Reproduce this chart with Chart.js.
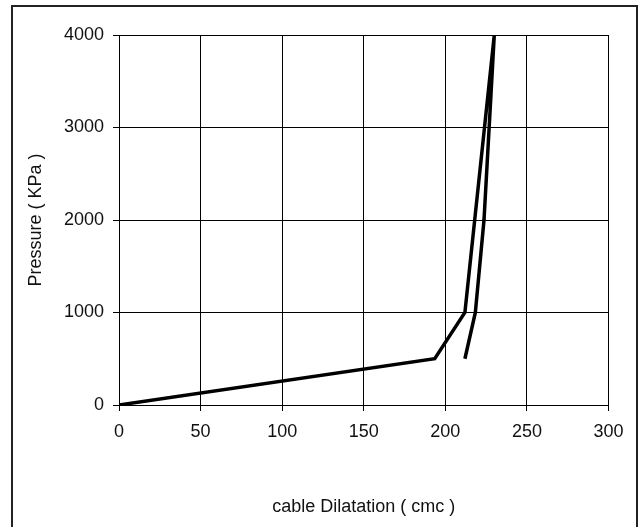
<!DOCTYPE html>
<html>
<head>
<meta charset="utf-8">
<script src="https://cdn.jsdelivr.net/npm/chart.js@4"></script>
<style>
  html, body { margin: 0; padding: 0; background: #fff; }
  #wrap { position: relative; width: 644px; height: 527px; }
  #frame { position: absolute; left: 11px; top: 5px; width: 627px; height: 530px;
           border: 2px solid #222; border-bottom: none; box-sizing: border-box; pointer-events: none; }
  canvas { position: absolute; left: 0; top: 0; }
</style>
</head>
<body>
<div id="wrap">
  <canvas id="chart" width="644" height="527"></canvas>
  <div id="frame"></div>
</div>
<script>
// 데이터
const dilatation = [0, 193.5, 212, 230, 223.7, 218.4, 212];
const pressure   = [0, 500, 1000, 4000, 2000, 1000, 500];
const xTicks = [0, 50, 100, 150, 200, 250, 300];
const yTicks = [0, 1000, 2000, 3000, 4000];

const points = dilatation.map((x, i) => ({ x: x, y: pressure[i] }));
const font = { family: '"Liberation Sans", Arial, sans-serif', size: 18 };

new Chart(document.getElementById('chart'), {
  type: 'scatter',
  data: {
    datasets: [{
      data: points,
      showLine: true,
      borderColor: '#000',
      borderWidth: 3.5,
      pointRadius: 0,
      tension: 0
    }]
  },
  options: {
    responsive: false,
    animation: false,
    devicePixelRatio: 1,
    layout: { padding: { left: 0, top: 35, right: 35.5, bottom: 0 } },
    plugins: { legend: { display: false }, tooltip: { enabled: false } },
    scales: {
      x: {
        type: 'linear', min: 0, max: 300,
        afterBuildTicks: s => { s.ticks = xTicks.map(v => ({ value: v })); },
        afterFit: s => { s.height = 122; },
        grid: { color: '#000', lineWidth: 1, tickLength: 6, tickColor: '#000' },
        border: { color: '#000', width: 1 },
        ticks: { color: '#111', font: font, padding: 10, maxRotation: 0, callback: v => String(v) },
        title: { display: true, text: 'cable Dilatation ( cmc )', color: '#111', font: font,
                 padding: { top: 0, bottom: 9.5 } }
      },
      y: {
        type: 'linear', min: 0, max: 4000,
        afterBuildTicks: s => { s.ticks = yTicks.map(v => ({ value: v })); },
        afterFit: s => { s.width = 119; },
        grid: { color: '#000', lineWidth: 1, tickLength: 6, tickColor: '#000' },
        border: { color: '#000', width: 1 },
        ticks: { color: '#111', font: font, padding: 9, callback: v => String(v) },
        title: { display: true, text: 'Pressure ( KPa )', color: '#111', font: font,
                 padding: { top: 25, bottom: 0 } }
      }
    }
  }
});
</script>
</body>
</html>
